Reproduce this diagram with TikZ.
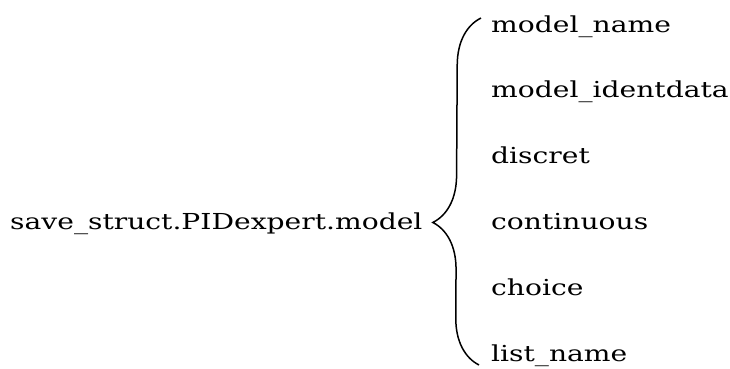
\documentclass[tikz,border=0pt]{standalone}
\usepackage{fontspec}
\setmainfont{DejaVu Serif}[FakeStretch=1.28]
\usetikzlibrary{decorations.pathreplacing,positioning}
\tikzset{
  field/.style={anchor=base west, inner sep=0pt, font=\fontsize{22}{26}\selectfont},
  brace/.style={decorate, decoration={brace, amplitude=47pt, aspect=0.41}, line width=1.5pt}
}
\begin{document}
\begin{tikzpicture}[x=1pt, y=1pt]
  \useasboundingbox (0,0) rectangle (730,369);
  \node[field] (root) at (10,139) {save\_struct.PIDexpert.model};
  \node[field] (f1) at (491,336) {model\_name};
  \node[field] (f2) at (491,271) {model\_identdata};
  \node[field] (f3) at (491,205) {discret};
  \node[field] (f4) at (491,139) {continuous};
  \node[field] (f5) at (491,73) {choice};
  \node[field] (f6) at (491,7) {list\_name};
  \coordinate (btop) at (481,351);
  \coordinate (bbot) at (479,4);
  \draw[brace] (bbot) -- (btop);
\end{tikzpicture}
\end{document}
